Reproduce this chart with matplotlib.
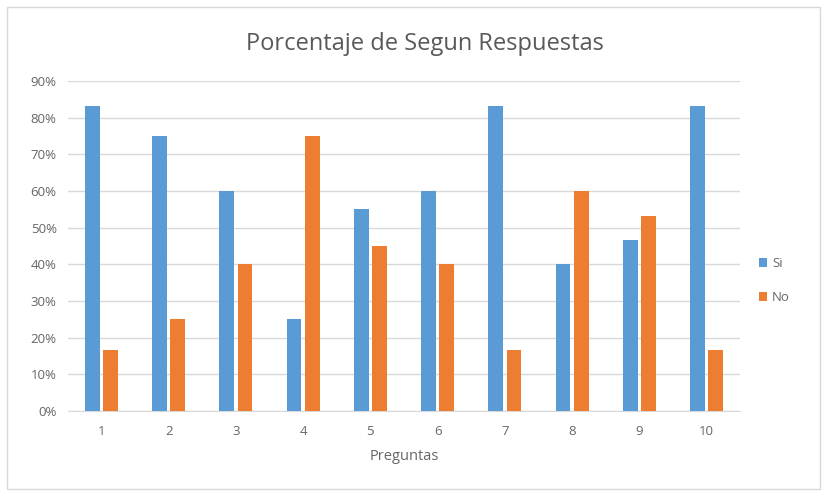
import numpy as np
import matplotlib
matplotlib.use('Agg')
import matplotlib.pyplot as plt
from matplotlib.ticker import FuncFormatter
from matplotlib.patches import Rectangle

# Data (percent)
preguntas = ['1', '2', '3', '4', '5', '6', '7', '8', '9', '10']
si = [83.3, 75.0, 60.0, 25.0, 55.0, 60.0, 83.3, 40.0, 46.7, 83.3]
no = [16.7, 25.0, 40.0, 75.0, 45.0, 40.0, 16.7, 60.0, 53.3, 16.7]

plt.rcParams['font.family'] = ['Open Sans', 'DejaVu Sans']

fig = plt.figure(figsize=(8.27, 4.97), dpi=100)
ax = fig.add_axes([0.082, 0.173, 0.813, 0.664])

# light frame around the whole chart
fig.patches.append(Rectangle((0.008, 0.016), 0.984, 0.970, transform=fig.transFigure,
                             fill=False, edgecolor='#D9D9D9', linewidth=1))

x = np.arange(1, len(preguntas) + 1)
w = 0.22
ax.bar(x - 0.135, si, width=w, color='#5B9BD5', label='Si', zorder=3)
ax.bar(x + 0.135, no, width=w, color='#ED7D31', label='No', zorder=3)

ax.set_xlim(0.5, 10.5)
ax.set_ylim(0, 90)
ax.set_yticks(range(0, 91, 10))
ax.yaxis.set_major_formatter(FuncFormatter(lambda v, _: f'{int(v)}%'))
ax.set_xticks(x)
ax.set_xticklabels(preguntas)

ax.grid(axis='y', color='#D9D9D9', linewidth=1, zorder=0)
for s in ['top', 'right', 'left']:
    ax.spines[s].set_visible(False)
ax.spines['bottom'].set_color('#D9D9D9')
ax.tick_params(axis='both', length=0, colors='#666666', labelsize=9.5)
ax.tick_params(axis='x', pad=10)
ax.tick_params(axis='y', pad=8)

ax.set_xlabel('Preguntas', color='#666666', fontsize=10.5, labelpad=8)
fig.suptitle('Porcentaje de Segun Respuestas', color='#595959', fontsize=17,
             x=0.514, y=0.935)

ax.legend(loc='center left', bbox_to_anchor=(1.01, 0.395), frameon=False,
          handlelength=0.6, handleheight=0.6, fontsize=9.5, labelspacing=1.6,
          labelcolor='#666666', handletextpad=0.4)

plt.savefig('out.png', dpi=100, facecolor='white')
